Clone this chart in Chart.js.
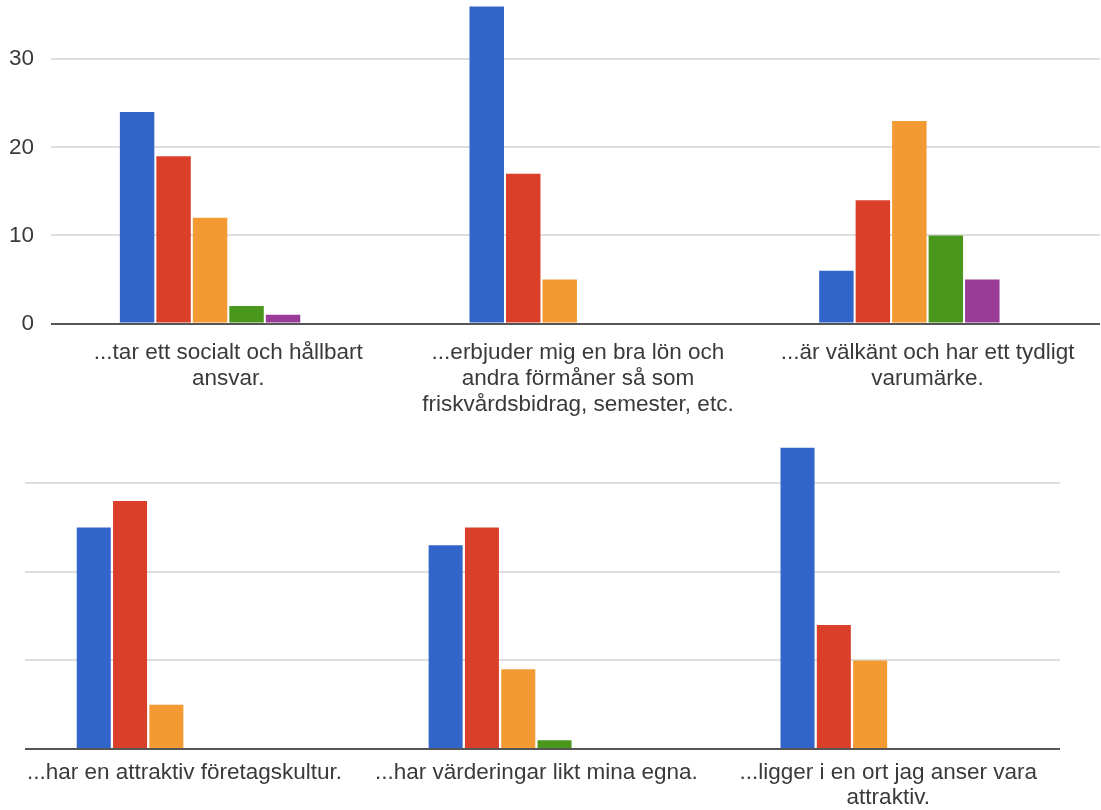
<!DOCTYPE html>
<html>
<head>
<meta charset="utf-8">
<script src="https://cdn.jsdelivr.net/npm/chart.js@4.4.1/dist/chart.umd.min.js"></script>
<style>
  html, body { margin: 0; padding: 0; background: #ffffff; overflow: hidden; }
  #wrap { position: relative; width: 1101px; height: 810px; }
  canvas { position: absolute; left: 0; }
  #topChart { top: 0; }
  #bottomChart { top: 420px; }
</style>
</head>
<body>
<div id="wrap">
  <canvas id="topChart" width="1101" height="420"></canvas>
  <canvas id="bottomChart" width="1101" height="390"></canvas>
</div>
<script>
// Statements, upper panel (wrapped lines)
const topCategories = [
  ['...tar ett socialt och hållbart', 'ansvar.'],
  ['...erbjuder mig en bra lön och', 'andra förmåner så som', 'friskvårdsbidrag, semester, etc.'],
  ['...är välkänt och har ett tydligt', 'varumärke.']
];
// Statements, lower panel
const bottomCategories = [
  ['...har en attraktiv företagskultur.'],
  ['...har värderingar likt mina egna.'],
  ['...ligger i en ort jag anser vara', 'attraktiv.']
];

// Answer options (number of respondents per statement)
const seriesNames = ['Alternativ 1', 'Alternativ 2', 'Alternativ 3', 'Alternativ 4', 'Alternativ 5', 'Alternativ 6'];

const alt1Top = [24, 36, 6];
const alt2Top = [19, 17, 14];
const alt3Top = [12, 5, 23];
const alt4Top = [2, 0, 10];
const alt5Top = [1, 0, 5];
const alt6Top = [0, 0, 0];

const alt1Bottom = [25, 23, 34];
const alt2Bottom = [28, 25, 14];
const alt3Bottom = [5, 9, 10];
const alt4Bottom = [0, 1, 0];
const alt5Bottom = [0, 0, 0];
const alt6Bottom = [0, 0, 0];

const yTicks = [0, 10, 20, 30];

const seriesColors = ['#3265c9', '#da4029', '#f39a33', '#4a971d', '#983c98', '#0099c6'];

const FONT = "'Liberation Sans', Arial, Helvetica, sans-serif";
const TEXT_COLOR = '#3a3a3a';

function buildPanel(canvasId, labels, seriesValues, p) {
  const datasets = seriesValues.map((vals, s) => ({
    label: seriesNames[s],
    data: vals.map((v, i) => ({ x: i, y: v })),
    backgroundColor: seriesColors[s],
    borderWidth: 0,
    categoryPercentage: p.catPct,
    barPercentage: p.barPct
  }));

  return new Chart(document.getElementById(canvasId), {
    type: 'bar',
    data: { datasets },
    options: {
      responsive: false,
      animation: false,
      devicePixelRatio: 1,
      layout: { padding: { top: p.padTop, left: 0, right: p.padRight, bottom: 0 } },
      plugins: { legend: { display: false }, tooltip: { enabled: false } },
      scales: {
        x: {
          type: 'linear',
          offset: false,
          min: p.xMin,
          max: p.xMax,
          grid: { display: false, offset: false },
          border: { display: false },
          afterBuildTicks: s => { s.ticks = labels.map((_, i) => ({ value: i })); },
          afterFit: s => { s.height = p.xAxisHeight; s.paddingLeft = 0; s.paddingRight = 0; },
          ticks: {
            autoSkip: false,
            maxRotation: 0,
            minRotation: 0,
            padding: p.labelPad,
            color: TEXT_COLOR,
            font: { family: FONT, size: 22.5, lineHeight: p.lineHeight },
            callback: (value, index) => labels[index]
          }
        },
        y: {
          min: 0,
          max: p.yMax,
          afterBuildTicks: s => { s.ticks = yTicks.map(v => ({ value: v })); },
          afterFit: s => { s.width = p.yAxisWidth; s.paddingTop = 0; s.paddingBottom = 0; },
          border: { display: false },
          grid: {
            drawTicks: false,
            lineWidth: 2,
            color: c => (c.tick && c.tick.value === 0) ? '#555555' : '#dedede'
          },
          ticks: {
            display: p.showYLabels,
            padding: 17,
            color: TEXT_COLOR,
            font: { family: FONT, size: 22.5 }
          }
        }
      }
    }
  });
}

// Upper panel: three statements with y-axis labels
buildPanel('topChart', topCategories,
  [alt1Top, alt2Top, alt3Top, alt4Top, alt5Top, alt6Top],
  {
    padTop: 2, padRight: 1,
    yMax: 36.5, yAxisWidth: 51, xAxisHeight: 96.5,
    xMin: -0.5071, xMax: 2.4931,
    catPct: 0.626, barPct: 0.945,
    labelPad: 8.5, lineHeight: 1.16,
    showYLabels: true
  });

// Lower panel: three statements, gridlines only
buildPanel('bottomChart', bottomCategories,
  [alt1Bottom, alt2Bottom, alt3Bottom, alt4Bottom, alt5Bottom, alt6Bottom],
  {
    padTop: 10, padRight: 41,
    yMax: 36, yAxisWidth: 25, xAxisHeight: 61,
    xMin: -0.4533, xMax: 2.488,
    catPct: 0.619, barPct: 0.937,
    labelPad: 3.5, lineHeight: 1.11,
    showYLabels: false
  });
</script>
</body>
</html>
